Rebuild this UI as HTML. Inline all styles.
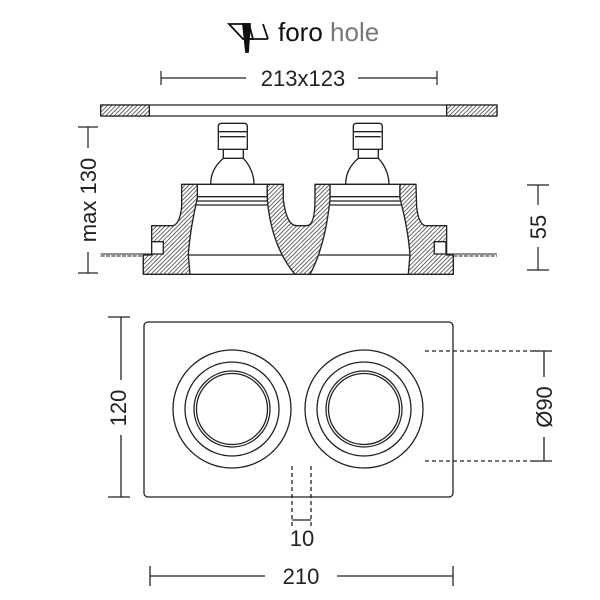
<!DOCTYPE html>
<html><head><meta charset="utf-8"><style>
html,body{margin:0;padding:0;background:#fff;}
svg{display:block;}
text{font-family:"Liberation Sans",sans-serif;}
</style></head><body>
<svg width="600" height="600" viewBox="0 0 600 600" xmlns="http://www.w3.org/2000/svg">
<defs>
<pattern id="h" patternUnits="userSpaceOnUse" width="9" height="9" patternTransform="rotate(45)">
<rect width="9" height="9" fill="#fff"/><line x1="0" y1="0" x2="0" y2="9" stroke="#222" stroke-width="4"/>
</pattern>
</defs>
<!-- title -->
<g stroke="#111" fill="none" stroke-width="1.8">
<polygon points="229,24 249,24 253,39 243,39" fill="#fff"/>
<line x1="243" y1="39" x2="268" y2="39"/>
<path d="M243,24 L250,24 L248,52 L246,52 Z" fill="#111"/>
<line x1="263" y1="24" x2="268" y2="39"/>
</g>
<text x="278" y="41" font-size="26" fill="#111">foro <tspan fill="#777">hole</tspan></text>

<!-- 213x123 dimension -->
<g stroke="#222" stroke-width="1.2">
<line x1="161" y1="78" x2="246" y2="78"/><line x1="358" y1="78" x2="437" y2="78"/>
<line x1="161" y1="71" x2="161" y2="85"/><line x1="437" y1="71" x2="437" y2="85"/>
</g>
<text x="303" y="86" font-size="22" text-anchor="middle" fill="#222">213x123</text>

<g transform="translate(80,90) scale(0.3333)" stroke="#222" stroke-width="4" stroke-linejoin="round">
<rect x="62" y="45" width="1189" height="33" fill="#fff"/>
<rect x="62" y="45" width="146" height="33" fill="url(#h)"/>
<rect x="1100" y="45" width="151" height="33" fill="url(#h)"/>
<g stroke-width="3">
<line x1="62" y1="492" x2="215" y2="492"/><line x1="62" y1="498" x2="190" y2="498" stroke-dasharray="12,4"/>
<line x1="1100" y1="492" x2="1251" y2="492"/><line x1="1120" y1="498" x2="1251" y2="498" stroke-dasharray="12,4"/>
</g>
<rect x="190" y="495" width="930" height="58" fill="#fff"/>
<g fill="#fff">
<path d="M430,205 C400,230 392,260 392,283 L522,283 C522,260 514,230 490,205 Z"/>
<rect x="430" y="178" width="60" height="27"/>
<path d="M415,178 L415,110 Q415,100 425,100 L492,100 Q502,100 502,110 L502,178 Z"/>
<line x1="415" y1="125" x2="502" y2="125"/><line x1="420" y1="140" x2="497" y2="140"/>
<path d="M835,205 C805,230 797,260 797,283 L927,283 C927,260 919,230 895,205 Z"/>
<rect x="835" y="178" width="60" height="27"/>
<path d="M820,178 L820,110 Q820,100 830,100 L897,100 Q907,100 907,110 L907,178 Z"/>
<line x1="820" y1="125" x2="907" y2="125"/><line x1="825" y1="140" x2="902" y2="140"/>
</g>
<g fill="#fff">
<rect x="352" y="283" width="210" height="37"/>
<rect x="340" y="320" width="232" height="25"/><line x1="345" y1="333" x2="567" y2="333"/>
<rect x="750" y="283" width="210" height="37"/>
<rect x="740" y="320" width="232" height="25"/><line x1="745" y1="333" x2="967" y2="333"/>
</g>
<path d="M190,553 L190,495 L215,495 L215,407 L280,407 Q300,400 305,350 L305,283 L352,283 L352,325 Q330,420 325,495 L330,553 Z" fill="url(#h)"/>
<path d="M1120,553 L1120,495 L1100,495 L1100,407 L1035,407 Q1015,400 1010,350 L1008,283 L960,283 L960,325 Q985,420 990,495 L985,553 Z" fill="url(#h)"/>
<path d="M562,283 L610,283 L610,330 Q620,407 650,407 L680,407 Q705,407 705,330 L705,283 L750,283 L750,330 Q735,470 690,553 L645,553 Q575,470 562,330 Z" fill="url(#h)"/>
<rect x="215" y="455" width="35" height="37" fill="#fff"/>
<rect x="1063" y="455" width="35" height="37" fill="#fff"/>
</g>

<g stroke="#222" stroke-width="1.2">
<line x1="88" y1="127" x2="88" y2="148"/><line x1="88" y1="252" x2="88" y2="273"/>
<line x1="78" y1="127" x2="98" y2="127"/><line x1="78" y1="273" x2="98" y2="273"/>
<line x1="538" y1="185" x2="538" y2="205"/><line x1="538" y1="247" x2="538" y2="270"/>
<line x1="527" y1="185" x2="549" y2="185"/><line x1="527" y1="270" x2="549" y2="270"/>
</g>
<text transform="translate(96,200) rotate(-90)" font-size="22" text-anchor="middle" fill="#222">max 130</text>
<text transform="translate(546,227) rotate(-90)" font-size="22" text-anchor="middle" fill="#222">55</text>

<g stroke="#222" stroke-width="1.3" fill="none">
<rect x="144" y="322" width="309" height="175" rx="4"/>
<circle cx="232" cy="409" r="59"/><circle cx="232" cy="409" r="47"/><circle cx="232" cy="409" r="38"/><circle cx="232" cy="409" r="35.5"/>
<circle cx="364" cy="409" r="59"/><circle cx="364" cy="409" r="47"/><circle cx="364" cy="409" r="38"/><circle cx="364" cy="409" r="35.5"/>
<g stroke-dasharray="4,3">
<line x1="292" y1="466" x2="292" y2="528"/><line x1="311" y1="466" x2="311" y2="528"/>
<line x1="425" y1="351" x2="538" y2="351"/><line x1="425" y1="461" x2="538" y2="461"/>
</g>
<line x1="292" y1="520" x2="311" y2="520"/>
<line x1="544" y1="351" x2="544" y2="377"/><line x1="544" y1="437" x2="544" y2="461"/>
<line x1="533" y1="351" x2="552" y2="351"/><line x1="533" y1="461" x2="552" y2="461"/>
<line x1="121" y1="317" x2="121" y2="380"/><line x1="121" y1="435" x2="121" y2="497"/>
<line x1="108" y1="317" x2="130" y2="317"/><line x1="108" y1="497" x2="130" y2="497"/>
<line x1="150" y1="576" x2="265" y2="576"/><line x1="337" y1="576" x2="453" y2="576"/>
<line x1="150" y1="566" x2="150" y2="586"/><line x1="453" y1="566" x2="453" y2="586"/>
</g>
<text transform="translate(126,408) rotate(-90)" font-size="22" text-anchor="middle" fill="#222">120</text>
<text transform="translate(552,407) rotate(-90)" font-size="22" text-anchor="middle" fill="#222">Ø90</text>
<text x="302" y="546" font-size="22" text-anchor="middle" fill="#222">10</text>
<text x="301" y="584" font-size="22" text-anchor="middle" fill="#222">210</text>
</svg>
</body></html>
